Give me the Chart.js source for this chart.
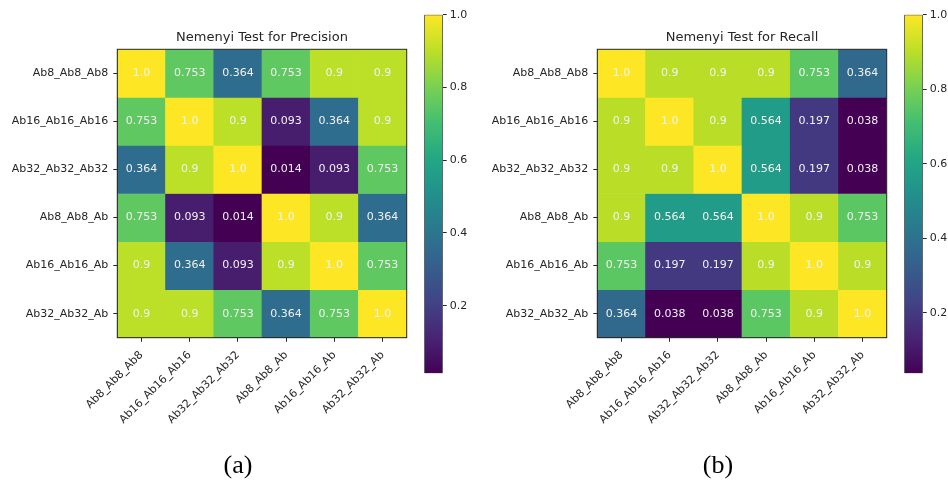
<!DOCTYPE html>
<html>
<head>
<meta charset="utf-8">
<script src="https://cdn.jsdelivr.net/npm/chart.js@4.4.1/dist/chart.umd.min.js"></script>
<style>
    body { margin: 0; background: #fff; width: 948px; height: 481px; position: relative; overflow: hidden; }
    canvas { position: absolute; top: 0; }
    .cap { position: absolute; font-family: "Liberation Serif", "DejaVu Serif", serif; font-size: 26px; color: #000; transform: translate(-50%, -50%); }
</style>
</head>
<body>
<canvas id="heatA" width="410" height="481" style="left:0px"></canvas>
<canvas id="barA" width="70" height="481" style="left:420px"></canvas>
<canvas id="heatB" width="410" height="481" style="left:480px"></canvas>
<canvas id="barB" width="48" height="481" style="left:900px"></canvas>
<div class="cap" style="left:238px;top:465px">(a)</div>
<div class="cap" style="left:718px;top:465px">(b)</div>

<script>
// Modellnamn (rader och kolumner)
const models = ['Ab8_Ab8_Ab8', 'Ab16_Ab16_Ab16', 'Ab32_Ab32_Ab32', 'Ab8_Ab8_Ab', 'Ab16_Ab16_Ab', 'Ab32_Ab32_Ab'];

// p-värden, Nemenyi test för precision
const precision = [
    [1.0, 0.753, 0.364, 0.753, 0.9, 0.9],
    [0.753, 1.0, 0.9, 0.093, 0.364, 0.9],
    [0.364, 0.9, 1.0, 0.014, 0.093, 0.753],
    [0.753, 0.093, 0.014, 1.0, 0.9, 0.364],
    [0.9, 0.364, 0.093, 0.9, 1.0, 0.753],
    [0.9, 0.9, 0.753, 0.364, 0.753, 1.0]
];

// p-värden, Nemenyi test för recall
const recall = [
    [1.0, 0.9, 0.9, 0.9, 0.753, 0.364],
    [0.9, 1.0, 0.9, 0.564, 0.197, 0.038],
    [0.9, 0.9, 1.0, 0.564, 0.197, 0.038],
    [0.9, 0.564, 0.564, 1.0, 0.9, 0.753],
    [0.753, 0.197, 0.197, 0.9, 1.0, 0.9],
    [0.364, 0.038, 0.038, 0.753, 0.9, 1.0]
];

// Skalstreck på färgskalan
const colorbarTicks = [0.2, 0.4, 0.6, 0.8, 1.0];

const VIRIDIS = ['#440154', '#482475', '#414487', '#355f8d', '#2a788e', '#21918c',
                 '#22a884', '#44bf70', '#7ad151', '#bddf26', '#fde725'];
const TEXT = '#262626';
const FONT = 'DejaVu Sans';

function hexToRgb(h) {
    return [1, 3, 5].map(i => parseInt(h.slice(i, i + 2), 16));
}

/**
 * Viridis-färg för t i [0, 1].
 */
function viridis(t) {
    t = Math.max(0, Math.min(1, t));
    const pos = t * (VIRIDIS.length - 1);
    const i = Math.min(Math.floor(pos), VIRIDIS.length - 2);
    const f = pos - i;
    const a = hexToRgb(VIRIDIS[i]), b = hexToRgb(VIRIDIS[i + 1]);
    const c = a.map((v, k) => Math.round(v + (b[k] - v) * f));
    return `rgb(${c[0]}, ${c[1]}, ${c[2]})`;
}

function fmt(v) {
    return Number.isInteger(v) ? v.toFixed(1) : String(v);
}

// Ram runt diagramytan och titel centrerad över rutnätet
const framePlugin = {
    id: 'frame',
    afterDatasetsDraw(chart, args, opts) {
        const { ctx, chartArea: a } = chart;
        ctx.save();
        ctx.strokeStyle = TEXT;
        ctx.lineWidth = 1;
        ctx.strokeRect(a.left, a.top, a.right - a.left, a.bottom - a.top);
        ctx.fillStyle = TEXT;
        ctx.font = `13px "${FONT}"`;
        ctx.textAlign = 'center';
        ctx.textBaseline = 'middle';
        ctx.fillText(opts.title, (a.left + a.right) / 2, a.top - 11.5);
        ctx.restore();
    }
};

// Värden i cellerna
const cellTextPlugin = {
    id: 'cellText',
    afterDatasetsDraw(chart, args, opts) {
        const ctx = chart.ctx;
        ctx.save();
        ctx.fillStyle = '#f2f2f2';
        ctx.font = `11px "${FONT}"`;
        ctx.textAlign = 'center';
        ctx.textBaseline = 'middle';
        chart.data.datasets.forEach((ds, r) => {
            chart.getDatasetMeta(r).data.forEach((bar, c) => {
                ctx.fillText(fmt(opts.matrix[r][c]), bar.x, (bar.y + bar.base) / 2);
            });
        });
        ctx.restore();
    }
};

/**
 * Skapar en värmekarta av en matris med staplar.
 */
function createHeatmap(id, title, matrix) {
    const all = matrix.flat();
    const vmin = Math.min(...all), vmax = Math.max(...all);

    const datasets = matrix.map((row, r) => ({
        data: row.map(() => [r, r + 1]),
        backgroundColor: row.map(v => viridis((v - vmin) / (vmax - vmin))),
        borderWidth: 0,
        grouped: false,
        barPercentage: 1,
        categoryPercentage: 1
    }));

    new Chart(document.getElementById(id), {
        type: 'bar',
        data: { labels: models, datasets: datasets },
        plugins: [framePlugin, cellTextPlugin],
        options: {
            responsive: false,
            animation: false,
            events: [],
            layout: { padding: { left: 0, right: 3.3, top: 49.3, bottom: 0 } },
            plugins: {
                legend: { display: false },
                tooltip: { enabled: false },
                cellText: { matrix: matrix },
                frame: { title: title }
            },
            scales: {
                x: {
                    offset: true,
                    grid: { offset: false, drawOnChartArea: false, tickLength: 4, color: TEXT },
                    border: { color: TEXT },
                    ticks: {
                        color: TEXT,
                        font: { family: FONT, size: 11 },
                        minRotation: 45,
                        maxRotation: 45,
                        autoSkip: false,
                        padding: 7
                    },
                    afterFit: s => { s.height = 143.3; }
                },
                y: {
                    type: 'linear',
                    min: 0,
                    max: 6,
                    reverse: true,
                    afterBuildTicks: s => { s.ticks = models.map((m, i) => ({ value: i + 0.5 })); },
                    grid: { drawOnChartArea: false, tickLength: 4, color: TEXT },
                    border: { color: TEXT },
                    ticks: {
                        color: TEXT,
                        font: { family: FONT, size: 11 },
                        padding: 5,
                        callback: v => models[Math.floor(v)]
                    },
                    afterFit: s => { s.width = 117.3; }
                }
            }
        }
    });
}

/**
 * Skapar färgskalan bredvid en värmekarta.
 */
function createColorbar(id, matrix, padLeft, axisWidth) {
    const all = matrix.flat();
    const vmin = Math.min(...all), vmax = Math.max(...all);

    new Chart(document.getElementById(id), {
        type: 'bar',
        data: {
            labels: [''],
            datasets: [{
                data: [[vmin, vmax]],
                backgroundColor: ctx => {
                    const a = ctx.chart.chartArea;
                    if (!a) return VIRIDIS[0];
                    const g = ctx.chart.ctx.createLinearGradient(0, a.bottom, 0, a.top);
                    VIRIDIS.forEach((c, i) => g.addColorStop(i / (VIRIDIS.length - 1), c));
                    return g;
                },
                borderWidth: 1,
                borderColor: TEXT,
                borderSkipped: false,
                barPercentage: 1,
                categoryPercentage: 1
            }]
        },
        options: {
            responsive: false,
            animation: false,
            events: [],
            layout: { padding: { left: padLeft, right: 0, top: 14.7, bottom: 107.7 } },
            plugins: { legend: { display: false }, tooltip: { enabled: false } },
            scales: {
                x: { display: false },
                y: {
                    position: 'right',
                    min: vmin,
                    max: vmax,
                    afterBuildTicks: s => { s.ticks = colorbarTicks.map(v => ({ value: v })); },
                    grid: { drawOnChartArea: false, tickLength: 4, color: TEXT },
                    border: { display: false },
                    ticks: {
                        color: TEXT,
                        font: { family: FONT, size: 11 },
                        padding: 3,
                        callback: v => v.toFixed(1)
                    },
                    afterFit: s => { s.width = axisWidth; }
                }
            }
        }
    });
}

createHeatmap('heatA', 'Nemenyi Test for Precision', precision);
createColorbar('barA', precision, 4.3, 70 - 4.3 - 18.4);
createHeatmap('heatB', 'Nemenyi Test for Recall', recall);
createColorbar('barB', recall, 4.3, 48 - 4.3 - 18.4);
</script>
</body>
</html>
